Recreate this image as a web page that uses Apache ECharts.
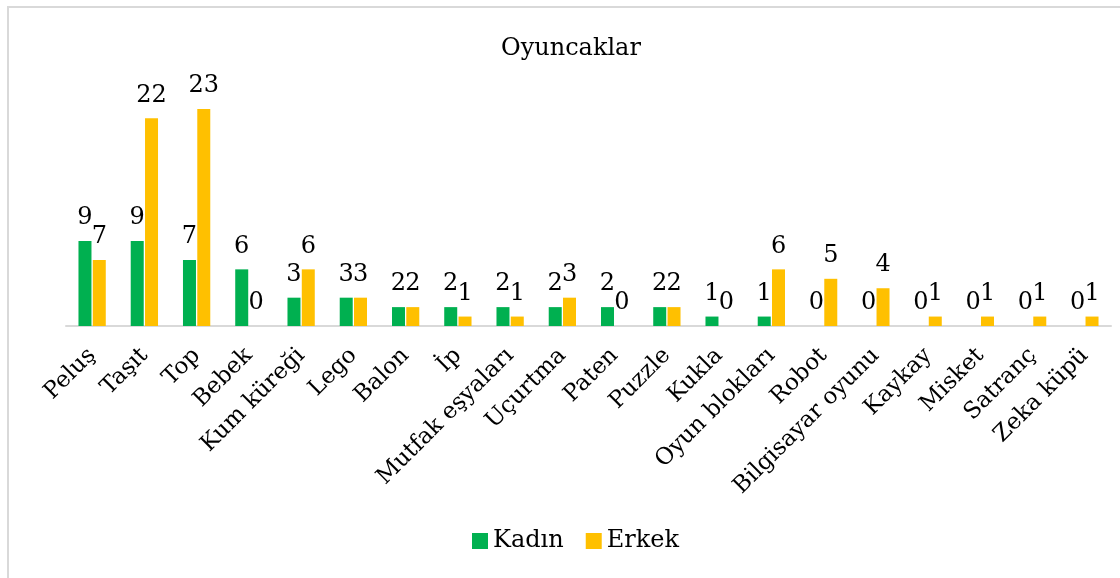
<!DOCTYPE html>
<html>
<head>
<meta charset="UTF-8">
<title>Oyuncaklar</title>
<script src="https://cdn.jsdelivr.net/npm/echarts@6/dist/echarts.min.js"></script>
<style>
    html, body { margin: 0; padding: 0; background: #fff; }
    #main { width: 1120px; height: 578px; }
</style>
</head>
<body>
<div id="main"></div>
<script>
    // kategoriler ve seriler
    var categories = ['Peluş', 'Taşıt', 'Top', 'Bebek', 'Kum küreği', 'Lego', 'Balon', 'İp',
        'Mutfak eşyaları', 'Uçurtma', 'Paten', 'Puzzle', 'Kukla', 'Oyun blokları', 'Robot',
        'Bilgisayar oyunu', 'Kaykay', 'Misket', 'Satranç', 'Zeka küpü'];
    var kadin = [9, 9, 7, 6, 3, 3, 2, 2, 2, 2, 2, 2, 1, 1, 0, 0, 0, 0, 0, 0];
    var erkek = [7, 22, 23, 0, 6, 3, 2, 1, 1, 3, 0, 2, 0, 6, 5, 4, 1, 1, 1, 1];

    var fontName = 'DejaVu Serif';
    var chart = echarts.init(document.getElementById('main'));

    var barLabel = {
        show: true,
        position: 'top',
        distance: 11,
        color: '#000',
        fontFamily: fontName,
        fontSize: 24
    };

    var option = {
        backgroundColor: '#fff',
        animation: false,
        title: {
            text: 'Oyuncaklar',
            left: 496,
            top: 32,
            textStyle: { fontFamily: fontName, fontSize: 24, fontWeight: 'normal', color: '#000' }
        },
        legend: {
            left: 467,
            top: 524,
            itemWidth: 16,
            itemHeight: 16,
            itemGap: 22,
            icon: 'rect',
            textStyle: { fontFamily: fontName, fontSize: 24, color: '#000' },
            data: ['Kadın', 'Erkek']
        },
        grid: { left: 66, right: 9, top: 90, bottom: 252 },
        xAxis: {
            type: 'category',
            data: categories,
            axisLine: { lineStyle: { color: '#D9D9D9', width: 2 } },
            axisTick: { show: false },
            axisLabel: {
                rotate: 45,
                interval: 0,
                margin: 26,
                color: '#000',
                fontFamily: fontName,
                fontSize: 23
            }
        },
        yAxis: {
            type: 'value',
            min: 0,
            max: 25,
            show: false
        },
        series: [
            {
                name: 'Kadın',
                type: 'bar',
                data: kadin,
                barWidth: 13,
                barGap: '10%',
                itemStyle: { color: '#00B050' },
                label: barLabel
            },
            {
                name: 'Erkek',
                type: 'bar',
                data: erkek,
                barWidth: 13,
                barGap: '10%',
                itemStyle: { color: '#FFC000' },
                label: barLabel
            }
        ],
        graphic: [{
            type: 'rect',
            shape: { x: 8, y: 7, width: 1200, height: 700 },
            style: { fill: 'none', stroke: '#D9D9D9', lineWidth: 2 },
            silent: true
        }]
    };
    chart.setOption(option);
</script>
</body>
</html>
